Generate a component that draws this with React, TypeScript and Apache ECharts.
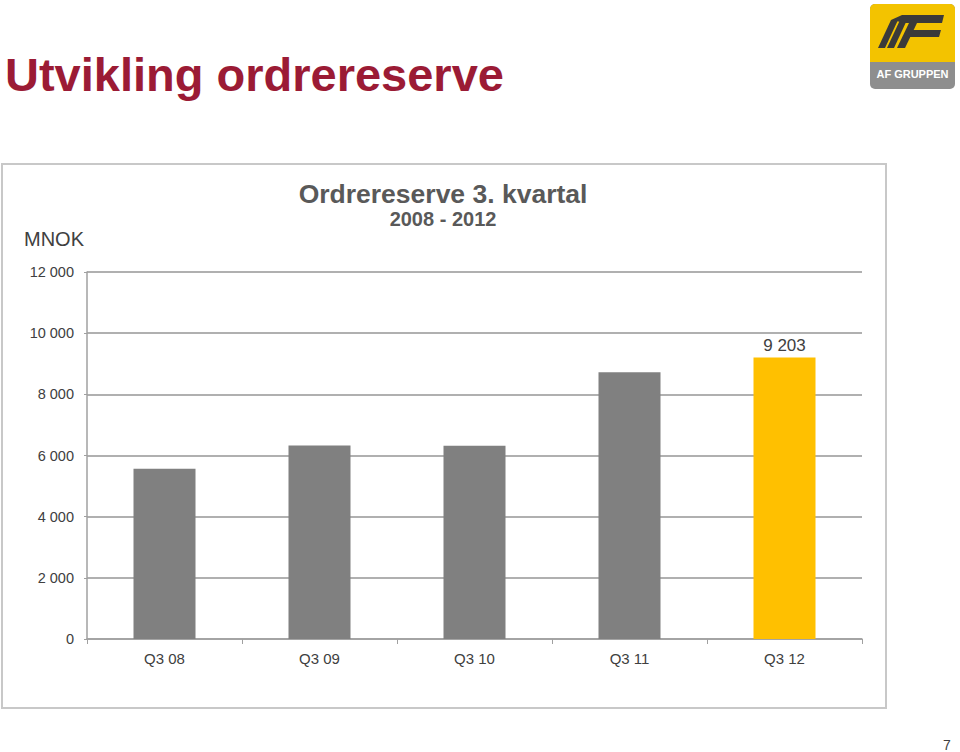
import React, { useEffect, useRef } from "react";
import * as echarts from "echarts";

const categories = ["Q3 08", "Q3 09", "Q3 10", "Q3 11", "Q3 12"];
const values = [5570, 6330, 6320, 8720, 9203];
const barColors = ["#808080", "#808080", "#808080", "#808080", "#FFC000"];
const labelledIndex = 4;

const FONT = "'Liberation Sans', Arial, Helvetica, sans-serif";

function fmt(v: number): string {
  return String(v).replace(/\B(?=(\d{3})+(?!\d))/g, " ");
}

export default function App() {
  const ref = useRef<HTMLDivElement>(null);
  useEffect(() => {
    if (!ref.current) return;
    const chart = echarts.init(ref.current, undefined, { renderer: "svg" });
    chart.setOption({
      animation: false,
      backgroundColor: "#ffffff",
      textStyle: { fontFamily: FONT },
      grid: { left: 87, right: 98, top: 272, bottom: 113, containLabel: false },
      xAxis: {
        type: "category",
        data: categories,
        axisLine: { show: true, lineStyle: { color: "#a0a0a0", width: 1.5 } },
        axisTick: { show: true, length: 5, alignWithLabel: false, lineStyle: { color: "#a0a0a0" } },
        axisLabel: { color: "#404040", fontSize: 15, margin: 12, fontFamily: FONT },
        splitLine: { show: false },
      },
      yAxis: {
        type: "value",
        min: 0,
        max: 12000,
        interval: 2000,
        axisLine: { show: true, lineStyle: { color: "#a0a0a0", width: 1.5 } },
        axisTick: { show: true, length: 3, lineStyle: { color: "#a0a0a0" } },
        axisLabel: {
          color: "#404040",
          fontSize: 14.5,
          margin: 13,
          fontFamily: FONT,
          formatter: (v: number) => fmt(v),
        },
        splitLine: { show: true, lineStyle: { color: "#b0b0b0", width: 2 } },
      },
      series: [
        {
          type: "bar",
          barWidth: "40%",
          data: values.map((v, i) => ({
            value: v,
            itemStyle: { color: barColors[i] },
            label:
              i === labelledIndex
                ? {
                    show: true,
                    position: "top",
                    distance: 4,
                    color: "#404040",
                    fontSize: 17,
                    fontFamily: FONT,
                    formatter: (p: any) => fmt(p.value),
                  }
                : { show: false },
          })),
        },
      ],
      graphic: [
        {
          type: "text",
          left: 5,
          top: 51,
          style: {
            text: "Utvikling ordrereserve",
            font: `bold 47px ${FONT}`,
            fill: "#9B1B35",
          },
        },
        {
          type: "rect",
          shape: { x: 2, y: 164, width: 884, height: 544 },
          style: { fill: "none", stroke: "#c8c8c8", lineWidth: 2 },
          z: 0,
        },
        {
          type: "text",
          x: 443,
          y: 180,
          style: {
            text: "Ordrereserve 3. kvartal",
            font: `bold 26.5px ${FONT}`,
            fill: "#595959",
            align: "center",
          },
        },
        {
          type: "text",
          x: 443,
          y: 209,
          style: {
            text: "2008 - 2012",
            font: `bold 20px ${FONT}`,
            fill: "#595959",
            align: "center",
          },
        },
        {
          type: "text",
          x: 24,
          y: 229,
          style: { text: "MNOK", font: `20px ${FONT}`, fill: "#404040" },
        },
        {
          type: "text",
          x: 943,
          y: 738,
          style: { text: "7", font: `14px ${FONT}`, fill: "#404040" },
        },
        // logo
        {
          type: "group",
          children: [
            {
              type: "rect",
              shape: { x: 870, y: 4, width: 85, height: 85, r: 5 },
              style: { fill: "#8e8e8e" },
            },
            {
              type: "rect",
              shape: { x: 870, y: 4, width: 85, height: 58, r: [5, 5, 0, 0] },
              style: { fill: "#F3C300" },
            },
            {
              type: "polygon",
              shape: { points: [[878, 48], [885, 48], [898, 20], [891, 20]] },
              style: { fill: "#3a3a3a" },
            },
            {
              type: "polygon",
              shape: { points: [[887, 48], [894, 48], [907, 20], [900, 20]] },
              style: { fill: "#3a3a3a" },
            },
            {
              type: "polygon",
              shape: { points: [[891, 20], [902, 15], [944, 15], [942, 23], [906, 23]] },
              style: { fill: "#3a3a3a" },
            },
            {
              type: "polygon",
              shape: { points: [[897, 48], [905, 48], [917, 23], [909, 23]] },
              style: { fill: "#3a3a3a" },
            },
            {
              type: "polygon",
              shape: { points: [[909, 30], [941, 30], [939, 37], [906, 37]] },
              style: { fill: "#3a3a3a" },
            },
            {
              type: "text",
              x: 912.5,
              y: 68,
              style: {
                text: "AF GRUPPEN",
                font: `bold 11px ${FONT}`,
                fill: "#ffffff",
                align: "center",
              },
            },
          ],
        },
      ],
    });
    return () => chart.dispose();
  }, []);
  return (
    <div
      ref={ref}
      style={{ position: "fixed", left: 0, top: 0, width: 960, height: 752 }}
    />
  );
}
